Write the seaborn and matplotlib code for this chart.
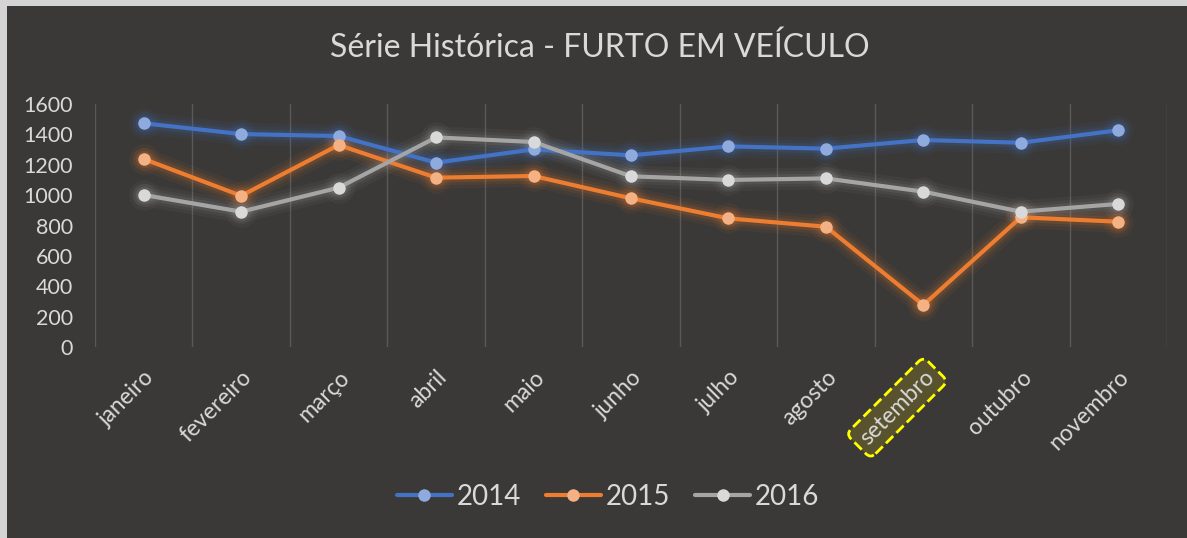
import numpy as np
import matplotlib
matplotlib.use("Agg")
import matplotlib.pyplot as plt
import pandas as pd
import seaborn as sns
from matplotlib.patches import Rectangle

# dados
meses = ['janeiro', 'fevereiro', 'março', 'abril', 'maio', 'junho',
         'julho', 'agosto', 'setembro', 'outubro', 'novembro']
v2014 = [1473, 1402, 1389, 1214, 1301, 1262, 1321, 1306, 1363, 1345, 1427]
v2015 = [1238, 996, 1330, 1115, 1126, 979, 847, 792, 277, 854, 825]
v2016 = [1001, 891, 1049, 1380, 1350, 1124, 1100, 1110, 1023, 891, 942]
anos = ['2014', '2015', '2016']

cor_linha = {'2014': '#4472c4', '2015': '#ed7d31', '2016': '#a5a5a5'}
cor_ponto = {'2014': '#8faadc', '2015': '#f4b183', '2016': '#d9d9d9'}

df = pd.DataFrame({'mes': meses * 3,
                   'valor': v2014 + v2015 + v2016,
                   'ano': np.repeat(anos, len(meses))})

sns.set_style('dark')
plt.rcParams['font.family'] = ['Lato', 'DejaVu Sans']
fundo = '#3a3937'
texto = '#d9d9d9'

fig = plt.figure(figsize=(11.87, 5.38), dpi=100, facecolor='#d4d4d4')
# moldura clara em cima e à esquerda
fig.patches.append(Rectangle((7 / 1187, 0), 1, 1 - 6 / 538, transform=fig.transFigure,
                             facecolor=fundo, edgecolor='none', zorder=-10))
ax = fig.add_axes([95 / 1187, 1 - 347 / 538, 1072 / 1187, 243 / 538])
ax.set_facecolor(fundo)

# brilho (glow) por baixo das linhas
for ano in anos:
    sub = df[df['ano'] == ano]
    for lw, ms, a in [(16, 22, 0.06), (11, 17, 0.08), (7, 13, 0.12)]:
        sns.lineplot(data=sub, x='mes', y='valor', ax=ax, color=cor_linha[ano],
                     linewidth=lw, marker='o', markersize=ms, markeredgewidth=0,
                     alpha=a, legend=False, sort=False, zorder=2)

# linhas principais
for ano in anos:
    sub = df[df['ano'] == ano]
    sns.lineplot(data=sub, x='mes', y='valor', ax=ax, color=cor_linha[ano],
                 linewidth=3, marker='o', markersize=9, markerfacecolor=cor_ponto[ano],
                 markeredgewidth=0, label=ano, sort=False, zorder=3)

ax.set_xlim(-0.5, len(meses) - 0.5)
ax.set_ylim(0, 1600)
ax.set_yticks(range(0, 1601, 200))
ax.set_xticks(np.arange(-0.5, len(meses), 1), minor=True)
ax.grid(False)
ax.grid(True, which='minor', axis='x', color='#5a5958', linewidth=1)
for s in ax.spines.values():
    s.set_visible(False)
ax.set_xlabel('')
ax.set_ylabel('')
ax.tick_params(axis='both', which='both', length=0)
ax.tick_params(axis='y', colors=texto, labelsize=15.5, pad=16)
ax.tick_params(axis='x', colors=texto, labelsize=16.5, pad=14)
ax.set_xticks(range(len(meses)))
ax.set_xticklabels(meses, rotation=45, ha='right', rotation_mode='anchor')
for lab in ax.get_xticklabels():
    if lab.get_text() == 'setembro':
        lab.set_bbox(dict(boxstyle='round,pad=0.3', facecolor='#58522e',
                          edgecolor='#ffff00', linestyle='--', linewidth=2))

fig.text(0.505, 1 - 48 / 538, 'Série Histórica - FURTO EM VEÍCULO', ha='center', va='center',
         color=texto, fontsize=23)

h, l = ax.get_legend_handles_labels()
ax.legend(h, l, loc='center', bbox_to_anchor=(0.512, 1 - 497 / 538), bbox_transform=fig.transFigure,
          ncol=3, frameon=False, fontsize=20, labelcolor=texto, handlelength=2,
          handletextpad=0.15, columnspacing=0.9)

fig.savefig('out.png', dpi=100, facecolor=fig.get_facecolor())
